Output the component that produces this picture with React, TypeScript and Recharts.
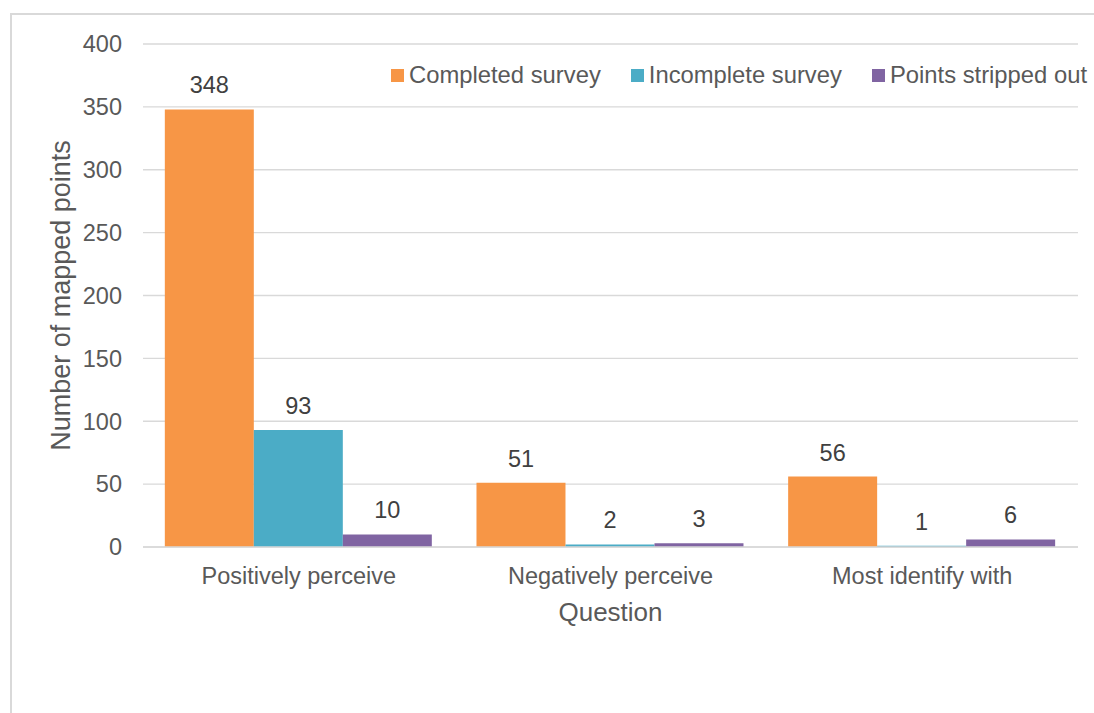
import React from "react";
import {
  BarChart,
  Bar,
  XAxis,
  YAxis,
  CartesianGrid,
  Legend,
  LabelList,
} from "recharts";

const questions = ["Positively perceive", "Negatively perceive", "Most identify with"];
const completed = [348, 51, 56];
const incomplete = [93, 2, 1];
const strippedOut = [10, 3, 6];
const yTicks = [0, 50, 100, 150, 200, 250, 300, 350, 400];

const data = questions.map((q, i) => ({
  question: q,
  completed: completed[i],
  incomplete: incomplete[i],
  stripped: strippedOut[i],
}));

const FONT = '"Liberation Sans", Arial, sans-serif';
const TEXT = "#595959";
const GRID = "#d9d9d9";

function LegendRow(props: any) {
  const items = props.payload || [];
  return (
    <div style={{ display: "flex", alignItems: "center", fontFamily: FONT, fontSize: 23.8, color: TEXT, whiteSpace: "nowrap" }}>
      {items.map((it: any, i: number) => (
        <div key={i} style={{ display: "flex", alignItems: "center", marginRight: i < items.length - 1 ? 30 : 0 }}>
          <span style={{ display: "inline-block", width: 13, height: 13, background: it.color, marginRight: 5 }} />
          <span>{it.value}</span>
        </div>
      ))}
    </div>
  );
}

export default function App() {
  return (
    <div style={{ position: "fixed", left: 0, top: 0, width: 1094, height: 713, overflow: "hidden", background: "#fff" }}>
      <div style={{ position: "absolute", left: 10, top: 13, width: 1200, height: 800, border: `2px solid ${GRID}` }} />
      <div style={{ position: "absolute", left: 0, top: 0 }}>
        <BarChart
          width={1094}
          height={713}
          data={data}
          margin={{ top: 44, right: 16, left: 0, bottom: 66 }}
          barCategoryGap="7%"
          barGap={0}
        >
          <CartesianGrid vertical={false} stroke={GRID} strokeWidth={1.3} />
          <XAxis
            dataKey="question"
            height={100}
            tickLine={false}
            tickSize={0}
            tickMargin={20}
            stroke={GRID}
            strokeWidth={1.3}
            tick={{ fill: TEXT, fontSize: 23.5, fontFamily: FONT }}
            label={(p: any) => {
              const vb = p.viewBox;
              return (
                <text x={vb.x + vb.width / 2} y={vb.y + 74} textAnchor="middle" fill={TEXT} fontSize={26} fontFamily={FONT}>
                  Question
                </text>
              );
            }}
          />
          <YAxis
            width={143}
            domain={[0, 400]}
            ticks={yTicks}
            axisLine={false}
            tickLine={false}
            tickSize={0}
            tickMargin={21}
            tick={{ fill: TEXT, fontSize: 23.5, fontFamily: FONT }}
            label={(p: any) => {
              const vb = p.viewBox;
              const x = vb.x + 70;
              const y = vb.y + vb.height / 2;
              return (
                <text x={x} y={y} transform={`rotate(-90 ${x} ${y})`} textAnchor="middle" fill={TEXT} fontSize={27} fontFamily={FONT}>
                  Number of mapped points
                </text>
              );
            }}
          />
          <Legend
            layout="horizontal"
            verticalAlign="middle"
            align="center"
            content={<LegendRow />}
            wrapperStyle={{ top: 61, left: 391, right: "auto", bottom: "auto", width: "auto" }}
          />
          <Bar dataKey="completed" name="Completed survey" fill="#F79646" isAnimationActive={false}>
            <LabelList dataKey="completed" position="top" offset={16} fill="#404040" fontSize={23.5} fontFamily={FONT} />
          </Bar>
          <Bar dataKey="incomplete" name="Incomplete survey" fill="#4BACC6" isAnimationActive={false}>
            <LabelList dataKey="incomplete" position="top" offset={16} fill="#404040" fontSize={23.5} fontFamily={FONT} />
          </Bar>
          <Bar dataKey="stripped" name="Points stripped out" fill="#8064A2" isAnimationActive={false}>
            <LabelList dataKey="stripped" position="top" offset={16} fill="#404040" fontSize={23.5} fontFamily={FONT} />
          </Bar>
        </BarChart>
      </div>
    </div>
  );
}
